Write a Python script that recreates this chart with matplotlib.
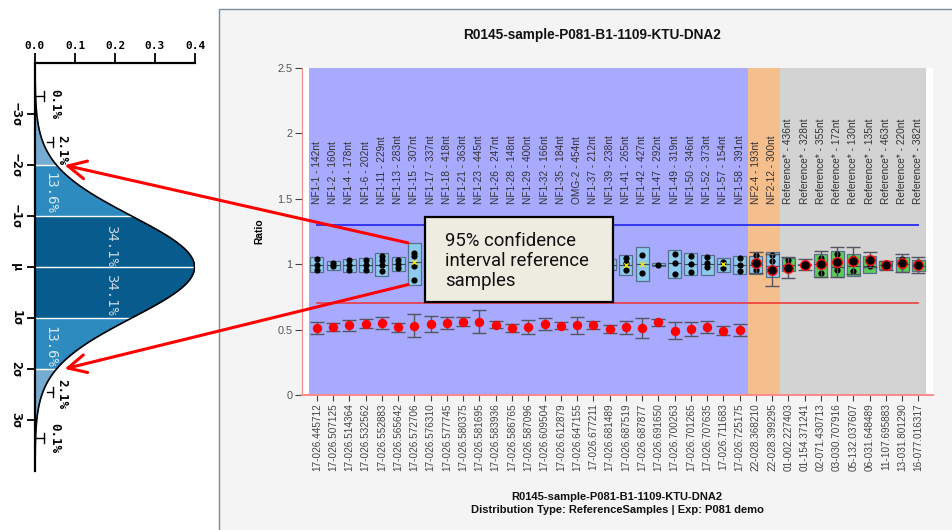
import numpy as np
import matplotlib
matplotlib.use("Agg")
import matplotlib.pyplot as plt
from matplotlib.patches import Rectangle, ConnectionPatch

plt.rcParams['font.family'] = ['Liberation Sans', 'DejaVu Sans']

# ---------------- data ----------------
probe_labels = [
    "NF1-1 - 142nt", "NF1-2 - 160nt", "NF1-4 - 178nt", "NF1-6 - 202nt", "NF1-11 - 229nt",
    "NF1-13 - 283nt", "NF1-15 - 307nt", "NF1-17 - 337nt", "NF1-18 - 418nt", "NF1-21 - 363nt",
    "NF1-23 - 445nt", "NF1-26 - 247nt", "NF1-28 - 148nt", "NF1-29 - 400nt", "NF1-32 - 166nt",
    "NF1-35 - 184nt", "OMG-2 - 454nt", "NF1-37 - 212nt", "NF1-39 - 238nt", "NF1-41 - 265nt",
    "NF1-42 - 427nt", "NF1-47 - 292nt", "NF1-49 - 319nt", "NF1-50 - 346nt", "NF1-52 - 373nt",
    "NF1-57 - 154nt", "NF1-58 - 391nt", "NF2-4 - 193nt", "NF2-12 - 300nt",
    "Reference* - 436nt", "Reference* - 328nt", "Reference* - 355nt", "Reference* - 172nt",
    "Reference* - 130nt", "Reference* - 135nt", "Reference* - 463nt", "Reference* - 220nt",
    "Reference* - 382nt",
]
sample_ids = [
    "17-026.445712", "17-026.507125", "17-026.514364", "17-026.532562", "17-026.552883",
    "17-026.565642", "17-026.572706", "17-026.576310", "17-026.577745", "17-026.580375",
    "17-026.581695", "17-026.583936", "17-026.586765", "17-026.587096", "17-026.609504",
    "17-026.612879", "17-026.647155", "17-026.677211", "17-026.681489", "17-026.687519",
    "17-026.687877", "17-026.691650", "17-026.700263", "17-026.701265", "17-026.707635",
    "17-026.711683", "17-026.725175", "22-028.368210", "22-028.399295",
    "01-002.227403", "01-154.371241", "02-071.430713", "03-030.707916", "05-132.037607",
    "06-031.648489", "11-107.695883", "13-031.801290", "16-077.016317",
]
probe_group = ["NF1"] * 27 + ["NF2"] * 2 + ["Reference"] * 9

# sample ratio and its error
sample_ratio = [0.513, 0.520, 0.534, 0.546, 0.552, 0.518, 0.530, 0.543, 0.553, 0.560,
                0.560, 0.537, 0.511, 0.519, 0.542, 0.531, 0.534, 0.532, 0.504, 0.518,
                0.514, 0.557, 0.493, 0.505, 0.518, 0.491, 0.500,
                1.010, 0.956,
                0.972, 0.997, 1.002, 1.015, 1.028, 1.035, 0.992, 1.010, 0.992]
sample_err = [0.043, 0.030, 0.041, 0.035, 0.048, 0.036, 0.090, 0.064, 0.045, 0.033,
              0.088, 0.027, 0.028, 0.054, 0.045, 0.027, 0.064, 0.030, 0.030, 0.048,
              0.078, 0.027, 0.065, 0.052, 0.047, 0.035, 0.046,
              0.080, 0.120,
              0.080, 0.042, 0.100, 0.115, 0.100, 0.060, 0.035, 0.070, 0.060]

# reference sample distribution per probe
box_lo = [0.938, 0.959, 0.938, 0.938, 0.913, 0.951, 0.844, 0.950, 0.940, 0.955,
          0.930, 0.950, 0.940, 0.930, 0.950, 0.945, 0.930, 0.950, 0.954, 0.920,
          0.869, 0.985, 0.895, 0.915, 0.920, 0.941, 0.926,
          0.928, 0.900,
          0.946, 0.992, 0.902, 0.900, 0.913, 0.933, 0.964, 0.938, 0.946]
box_hi = [1.056, 1.023, 1.043, 1.048, 1.087, 1.056, 1.163, 1.050, 1.060, 1.040,
          1.080, 1.050, 1.060, 1.070, 1.050, 1.055, 1.080, 1.050, 1.041, 1.074,
          1.133, 1.010, 1.112, 1.087, 1.074, 1.048, 1.066,
          1.061, 1.091,
          1.048, 1.003, 1.079, 1.099, 1.079, 1.061, 1.023, 1.056, 1.035]
box_med = [0.997, 0.992, 0.992, 0.992, 0.992, 1.000, 1.018, 1.000, 1.000, 0.995,
           1.000, 1.000, 0.990, 1.000, 1.000, 1.000, 1.000, 1.000, 0.995, 0.997,
           1.002, 0.997, 1.010, 1.002, 1.002, 0.999, 0.997,
           0.992, 0.985,
           0.997, 0.997, 1.002, 0.977, 0.985, 0.985, 0.992, 1.000, 0.990]
box_points = [
    [1.041, 0.997, 0.954], [1.010, 0.985], [1.030, 0.992, 0.954], [1.030, 0.992, 0.954],
    [1.066, 1.030, 0.992, 0.946], [1.035, 1.005, 0.972], [1.087, 1.061, 0.989, 0.882],
    [1.030, 0.990, 0.960], [1.040, 1.000, 0.950], [1.020, 0.980], [1.060, 1.000, 0.940],
    [1.030, 0.970], [1.040, 0.990, 0.950], [1.050, 1.000, 0.940], [1.030, 0.970],
    [1.040, 1.000, 0.960], [1.060, 1.010, 0.950], [1.030, 0.980], [1.030, 1.000, 0.965],
    [1.048, 1.010, 0.959], [1.074, 0.933], [0.997], [1.079, 1.010, 0.928],
    [1.061, 1.002, 0.941], [1.056, 1.010, 0.976], [1.018, 0.972], [1.048, 0.997, 0.946],
    [1.074, 0.959], [1.074, 1.023],
    [1.035, 0.992], [], [1.048, 0.933], [1.081, 0.954], [1.048, 0.946], [0.985],
    [], [1.041, 0.985], [1.015],
]
mean_marked = [6, 19, 20, 25]

ci_upper = 1.3
ci_lower = 0.7

sigma_labels = ["\u22123\u03c3", "\u22122\u03c3", "\u22121\u03c3", "\u03bc", "1\u03c3", "2\u03c3", "3\u03c3"]
density_ticks = [0.0, 0.1, 0.2, 0.3, 0.4]

# ---------------- figure ----------------
W, H = 953, 530
fig = plt.figure(figsize=(W / 100, H / 100), dpi=100, facecolor="white")

# framed panel behind the ratio chart
fig.add_artist(Rectangle((219 / W, -0.02), 1.0, 521 / H + 0.02, transform=fig.transFigure,
                         facecolor="#f4f4f4", edgecolor="#7d8c9c", linewidth=1.0, zorder=-5))

# ---------- normal distribution panel ----------
axL = fig.add_axes([35 / W, 1 - 470.7 / H, 160 / W, (470.7 - 63.3) / H])
axL.set_facecolor("none")
s = np.linspace(-4, 4, 1601)
pdf = np.exp(-s ** 2 / 2) / np.sqrt(2 * np.pi)
bands = [(-4, -3, "#c4d8ea"), (-3, -2, "#76acd2"), (-2, -1, "#2e8bc0"), (-1, 0, "#075b8d"),
         (0, 1, "#075b8d"), (1, 2, "#2e8bc0"), (2, 3, "#76acd2"), (3, 4, "#c4d8ea")]
for a, b, c in bands:
    m = (s >= a - 1e-9) & (s <= b + 1e-9)
    axL.fill_betweenx(s[m], 0, pdf[m], color=c, linewidth=0)
for k in range(-3, 4):
    axL.plot([0, np.exp(-k ** 2 / 2) / np.sqrt(2 * np.pi)], [k, k], color="white", lw=1.0)
axL.plot(pdf, s, color="black", lw=1.2)
axL.set_xlim(0, 0.4)
axL.set_ylim(4, -4)
axL.xaxis.tick_top()
axL.set_xticks(density_ticks)
axL.set_xticklabels([f"{v:.1f}" for v in density_ticks], family="DejaVu Sans Mono",
                    fontweight="bold", fontsize=8)
axL.set_yticks(range(-3, 4))
axL.set_yticklabels(sigma_labels, family="DejaVu Sans Mono", fontweight="bold",
                    fontsize=9.5, rotation=-90, va="center")
axL.tick_params(axis="x", direction="out", length=7, width=1.3, pad=2)
axL.tick_params(axis="y", direction="out", length=6, width=1.3, pad=3)
for side in ("right", "bottom"):
    axL.spines[side].set_visible(False)
for side in ("left", "top"):
    axL.spines[side].set_linewidth(1.6)

pct_kw = dict(rotation=-90, ha="center", va="center", family="DejaVu Sans Mono", fontsize=10)
axL.text(0.19, -0.42, "34.1%", color="#c9d8e6", **pct_kw)
axL.text(0.19, 0.55, "34.1%", color="#c9d8e6", **pct_kw)
axL.text(0.038, -1.45, "13.6%", color="#d8e8f3", **pct_kw)
axL.text(0.038, 1.56, "13.6%", color="#d8e8f3", **pct_kw)
bold_kw = dict(rotation=-90, ha="center", va="center", family="DejaVu Sans Mono",
               fontsize=9, fontweight="bold", color="black")
axL.text(0.068, -2.3, "2.1%", **bold_kw)
axL.text(0.068, 2.5, "2.1%", **bold_kw)
axL.text(0.05, -3.2, "0.1%", **bold_kw)
axL.text(0.05, 3.36, "0.1%", **bold_kw)
for sgn in (-1, 1):
    axL.plot([0.003, 0.022], [sgn * 3.35, sgn * 3.35], color="black", lw=1.0)
    axL.plot([0.022, 0.022], [sgn * 3.25, sgn * 3.45], color="black", lw=1.0)
    axL.plot([0.03, 0.045], [sgn * 2.45, sgn * 2.45], color="black", lw=1.0)
    axL.plot([0.045, 0.045], [sgn * 2.35, sgn * 2.55], color="black", lw=1.0)

# ---------- ratio chart ----------
ax = fig.add_axes([302 / W, 1 - 395 / H, (933 - 302) / W, (395 - 68) / H])
ax.set_facecolor("white")
n = len(probe_labels)
x = np.arange(n)
ax.set_xlim(-0.92, 37.9)
ax.set_ylim(0, 2.5)

group_colors = {"NF1": "#a8aaff", "NF2": "#f5be8d", "Reference": "#d3d3d3"}
start = 0
for i in range(1, n + 1):
    if i == n or probe_group[i] != probe_group[start]:
        ax.axvspan(start - 0.5, i - 0.5, color=group_colors[probe_group[start]], lw=0, zorder=0)
        start = i

ax.plot([x[0], x[-1]], [ci_upper, ci_upper], color="#3535f0", lw=1.4, zorder=1)
ax.plot([x[0], x[-1]], [ci_lower, ci_lower], color="#f03030", lw=1.1, zorder=1)

box_w = 0.8
lo = np.array(box_lo)
hi = np.array(box_hi)
box_face = ["#5ccb5c" if g == "Reference" else "#8ccaee" for g in probe_group]
ax.bar(x, hi - lo, bottom=lo, width=box_w, color=box_face, edgecolor="#56708c",
       linewidth=0.9, zorder=2)
ax.hlines(box_med, x - box_w / 2, x + box_w / 2, color="#3a4a5a", lw=0.8, zorder=3)
px = [i for i, pts in enumerate(box_points) for _ in pts]
py = [v for pts in box_points for v in pts]
ax.scatter(px, py, s=20, color="black", zorder=4, linewidths=0)
ax.scatter([x[i] for i in mean_marked], [box_med[i] for i in mean_marked], marker="x",
           s=10, color="#f2e600", linewidths=1.0, zorder=5)

ax.errorbar(x, sample_ratio, yerr=sample_err, fmt="none", ecolor="#55555f",
            elinewidth=1.0, capsize=4.7, capthick=1.0, zorder=5)
nf1 = [i for i, g in enumerate(probe_group) if g == "NF1"]
other = [i for i, g in enumerate(probe_group) if g != "NF1"]
ax.plot([x[i] for i in nf1], [sample_ratio[i] for i in nf1], "o", color="#ff0000",
        markersize=6.8, markeredgewidth=0, zorder=6)
ax.plot([x[i] for i in other], [sample_ratio[i] for i in other], "o", color="black",
        markeredgecolor="#ff1010", markersize=7.0, markeredgewidth=1.0, zorder=6)

for i, lab in enumerate(probe_labels):
    ax.text(i, 1.46, lab, rotation=90, ha="center", va="bottom", fontsize=7.3,
            color="#333333", zorder=3)

ax.set_xticks(x)
ax.set_xticklabels(sample_ids, rotation=90, fontsize=7.2, color="#444444")
ax.set_yticks([0, 0.5, 1, 1.5, 2, 2.5])
ax.set_yticklabels(["0", "0.5", "1", "1.5", "2", "2.5"], fontsize=7.8, color="#555555")
ax.tick_params(axis="x", length=4, width=0.8, color="#444444", pad=2)
ax.tick_params(axis="y", length=5, width=0.8, color="#444444", pad=2)
for side in ("top", "right"):
    ax.spines[side].set_visible(False)
ax.spines["left"].set_color("#f08a8a")
ax.spines["left"].set_linewidth(0.8)
ax.spines["bottom"].set_color("#ff8a8a")
ax.spines["bottom"].set_linewidth(1.4)
ax.set_ylabel("Ratio", fontsize=7.4, fontweight="bold", labelpad=9)

fig.text(592 / W, 1 - 35 / H, "R0145-sample-P081-B1-1109-KTU-DNA2", ha="center",
         va="center", fontsize=9.8, fontweight="bold", color="#111111")
fig.text(617 / W, 1 - 497 / H, "R0145-sample-P081-B1-1109-KTU-DNA2", ha="center",
         va="center", fontsize=8, fontweight="bold", color="#111111")
fig.text(617 / W, 1 - 510 / H, "Distribution Type: ReferenceSamples | Exp: P081 demo",
         ha="center", va="center", fontsize=8, fontweight="bold", color="#111111")

# callout
fig.add_artist(Rectangle((425 / W, 1 - 302 / H), 188 / W, 85 / H, transform=fig.transFigure,
                         facecolor="#eeece1", edgecolor="black", linewidth=1.6, zorder=8))
fig.text(445 / W, 1 - 261 / H, "95% confidence\ninterval reference\nsamples", ha="left",
         va="center", fontsize=13.4, family=["Roboto", "DejaVu Sans"], linespacing=1.17,
         color="#111111", zorder=9)

# red arrows linking the widest reference box to the ±2σ tails
hl = 6
tip = 0.02
for yb, sg in ((box_hi[hl], -2), (box_lo[hl], 2)):
    dens = np.exp(-sg ** 2 / 2) / np.sqrt(2 * np.pi) + tip
    con = ConnectionPatch(xyA=(x[hl] - box_w / 2, yb), coordsA=ax.transData,
                          xyB=(dens, sg), coordsB=axL.transData,
                          arrowstyle="->,head_length=1.3,head_width=0.65",
                          color="#ff0000", lw=2.2, mutation_scale=10, zorder=10)
    fig.add_artist(con)

fig.savefig("out.png", dpi=100)
